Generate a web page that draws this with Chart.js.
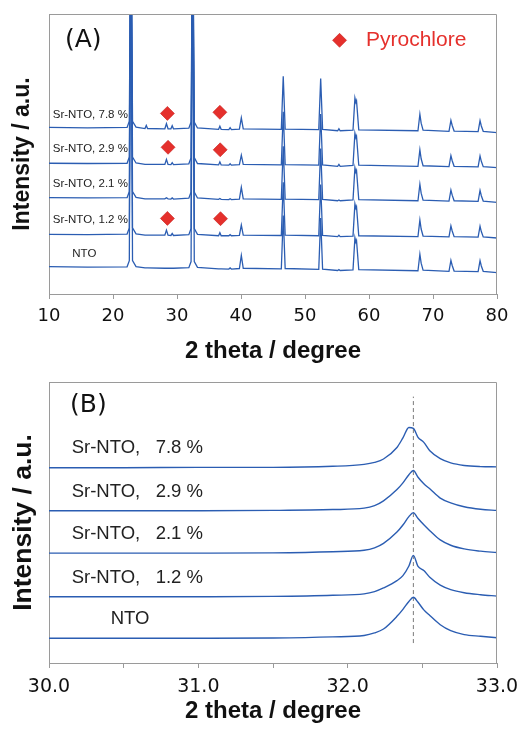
<!DOCTYPE html>
<html><head><meta charset="utf-8">
<script src="https://cdn.jsdelivr.net/npm/chart.js@4.4.1/dist/chart.umd.min.js"></script>
<style>
html,body{margin:0;padding:0;background:#fff;}
#wrap{position:relative;width:521px;height:730px;overflow:hidden;}
.box{position:absolute;left:0;width:521px;height:365px;}
canvas{display:block;}
</style></head><body>
<div id="wrap">
<div class="box" style="top:0"><canvas id="cA" width="521" height="365"></canvas></div>
<div class="box" style="top:365px"><canvas id="cB" width="521" height="365"></canvas></div>
</div>
<script>
// ---------- Panel (A): full pattern, 10-80 deg (stacked, a.u.) ----------
const twoThetaA = [10,16,22.2,22.55,22.8,23.05,23.6,25.0,25.2,25.4,28.1,28.35,28.6,29.05,29.25,29.45,31.85,32.2,32.45,32.7,33.2,36.5,36.7,36.9,38.1,38.3,38.5,39.75,40.05,40.35,46.3,46.6,46.9,52.15,52.45,52.75,55.1,55.3,55.5,57.5,57.8,57.95,58.05,58.4,67.65,67.95,68.15,68.45,72.5,72.8,73.0,73.3,77.05,77.35,77.55,77.85,80];
const intA_NTO = [9.8,9.6,9.7,11.9,140,11.9,9.8,9.3,9.3,9.3,9.2,9.2,9.2,9.2,9.2,9.2,9.4,11.6,140,11.6,9.5,9.0,9.0,9.0,8.9,9.3,8.9,9.1,13.8,9.2,9.0,28.0,9.1,8.8,27.1,8.9,8.4,8.7,8.4,8.6,20.1,18.5,19.1,8.7,8.3,14.2,11.0,8.5,8.1,12.0,10.2,8.2,8.0,11.9,10.0,8.1,7.6];
const intA_12 = [21.3,21.2,21.4,23.6,140,23.6,21.5,21.0,21.0,21.0,21.0,22.8,21.0,20.9,21.6,20.9,21.2,23.4,140,23.4,21.3,20.8,21.9,20.8,20.8,21.2,20.8,20.9,24.6,21.0,20.9,39.9,21.0,20.8,39.1,20.9,20.5,21.0,20.5,20.7,32.2,30.6,31.2,20.8,20.5,26.4,23.2,20.7,20.4,24.3,22.5,20.5,20.3,24.2,22.3,20.4,20.0];
const intA_21 = [34.4,34.3,34.4,36.6,140,36.6,34.5,34.0,34.0,34.0,34.0,34.4,34.0,33.9,34.3,33.9,34.2,36.4,140,36.4,34.3,33.8,34.1,33.8,33.7,34.0,33.7,33.9,38.1,34.0,33.8,52.8,33.9,33.7,52.0,33.8,33.3,33.6,33.3,33.6,45.1,43.5,44.1,33.7,33.3,39.2,36.0,33.5,33.2,37.1,35.3,33.3,33.1,37.0,35.1,33.2,32.75];
const intA_29 = [46.7,46.6,46.7,48.9,140,48.9,46.8,46.3,46.3,46.3,46.3,48.1,46.3,46.2,46.9,46.2,46.5,48.7,140,48.7,46.6,46.1,47.2,46.1,46.0,46.5,46.0,46.2,49.6,46.3,46.1,65.1,46.2,46.0,64.3,46.1,45.6,46.3,45.6,45.9,57.4,55.8,56.4,46.0,45.6,51.5,48.3,45.8,45.5,49.4,47.6,45.6,45.4,49.3,47.4,45.5,45.1];
const intA_78 = [59.5,59.3,59.5,61.7,140,61.7,59.6,59.1,60.2,59.1,59.0,60.8,59.0,59.0,60.1,59.0,59.2,61.4,140,61.4,59.3,58.8,59.9,58.8,58.7,59.4,58.7,58.9,62.9,59.0,58.8,77.8,58.9,58.7,77.0,58.8,58.3,59.0,58.3,58.5,70.0,68.4,69.0,58.6,58.3,64.2,61.0,58.5,58.1,62.0,60.2,58.2,58.0,61.9,60.0,58.1,57.6];
const seriesA = [intA_78, intA_29, intA_21, intA_12, intA_NTO];
const labelsA = ['Sr-NTO, 7.8 %','Sr-NTO, 2.9 %','Sr-NTO, 2.1 %','Sr-NTO, 1.2 %','NTO'];
const labelAX = [10.58, 10.58, 10.58, 10.58, 13.64];
const labelAY = [62.75, 50.6, 38.1, 25.5, 13.1];
// pyrochlore markers (last one is the legend key)
const pyroX = [28.5, 36.7, 28.6, 36.75, 28.5, 36.8, 55.4];
const pyroY = [64.5, 64.9, 52.4, 51.5, 27.0, 26.9, 90.6];
const ticksA = [10,20,30,40,50,60,70,80];

// ---------- Panel (B): 30-33 deg zoom ----------
const twoThetaB = [30.0,30.5,31.0,31.5,31.9,32.11,32.18,32.24,32.33,32.37,32.41,32.44,32.47,32.51,32.55,32.62,32.69,32.78,32.89,33.0];
const intB_NTO = [8.8,8.8,8.8,8.9,9.3,9.8,10.7,12.1,16.6,19.1,21.9,23.4,21.7,18.9,16.9,13.6,11.5,10.1,9.5,9.0];
const intB_12 = [23.6,23.6,23.6,23.7,24.1,24.6,25.4,26.7,29.3,31.1,34.5,38.3,34.5,32.9,30.5,27.7,26.1,25.0,24.3,23.8];
const intB_21 = [39.1,39.1,39.1,39.2,39.6,40.1,41.0,42.6,46.6,49.1,52.1,53.5,51.5,49.2,47.1,43.8,41.9,40.6,39.8,39.3];
const intB_29 = [54.2,54.2,54.2,54.3,54.6,55.1,56.0,57.7,61.7,64.1,67.0,68.5,66.2,63.8,62.0,58.7,57.0,55.6,54.7,54.3];
const intB_78 = [69.5,69.5,69.6,69.6,70.0,70.7,71.4,72.6,76.7,80.1,83.8,83.5,80.4,78.5,75.5,72.7,71.2,70.3,69.9,69.8];
const seriesB = [intB_78, intB_29, intB_21, intB_12, intB_NTO];
const labelsB = ['Sr-NTO,   7.8 %','Sr-NTO,   2.9 %','Sr-NTO,   2.1 %','Sr-NTO,   1.2 %','NTO'];
const labelBX = [30.152, 30.152, 30.152, 30.152, 30.413];
const labelBY = [74.6, 59.2, 44.1, 28.6, 13.9];
const refLineX = [32.44, 32.44];
const refLineY = [7.1, 94.8];

// ---------- styling ----------
const LINE = '#2b5db2';
const RED = '#e5302c';
const FRAME = '#9a9a9a';
Chart.defaults.font.family = 'Liberation Sans';
Chart.defaults.color = '#111';

const deco = {
  id: 'deco',
  afterDatasetsDraw(chart, args, opts) {
    const {ctx, chartArea: a, scales} = chart;
    ctx.save();
    ctx.strokeStyle = FRAME; ctx.lineWidth = 1;
    const t = Math.round(a.top) + 0.5, r = Math.round(a.right) - 0.5;
    ctx.beginPath();
    ctx.moveTo(a.left, t); ctx.lineTo(r, t); ctx.lineTo(r, a.bottom);
    ctx.stroke();
    for (const tx of opts.texts) {
      ctx.font = tx.font; ctx.fillStyle = tx.color;
      ctx.textAlign = 'left'; ctx.textBaseline = tx.baseline;
      ctx.fillText(tx.text, scales.x.getPixelForValue(tx.x), scales.y.getPixelForValue(tx.y));
    }
    ctx.restore();
  }
};

function xy(xs, ys) { return xs.map((x, i) => ({x, y: ys[i]})); }

function lineSets(xs, list, extra) {
  return list.map(ys => Object.assign({
    data: xy(xs, ys), borderColor: LINE, borderWidth: 1.3, pointRadius: 0,
    fill: false, tension: 0, order: 2
  }, extra || {}));
}

function axes(o) {
  return {
    x: {
      type: 'linear', min: o.xmin, max: o.xmax,
      afterFit: s => { s.height = o.xh; s.paddingLeft = 0; s.paddingRight = 0; },
      border: {display: true, color: FRAME, width: 1},
      grid: {drawOnChartArea: false, drawTicks: true, tickLength: 5, color: FRAME},
      ticks: {
        stepSize: o.step, autoSkip: false, maxRotation: 0, padding: o.tpad, color: '#111',
        font: {family: 'DejaVu Sans', size: o.tsize},
        callback: o.cb
      },
      title: {display: true, text: '2 theta / degree', color: '#111',
        font: {family: 'Liberation Sans', size: 24, weight: 'bold'},
        padding: {top: 0, bottom: o.titlePad}}
    },
    y: {
      type: 'linear', min: 0, max: 100,
      afterFit: s => { s.width = 49; s.paddingTop = 0; s.paddingBottom = 0; },
      border: {display: true, color: FRAME, width: 1},
      grid: {display: false, drawTicks: false},
      ticks: {display: false},
      title: {display: true, text: 'Intensity / a.u.', color: '#111',
        font: {family: 'Liberation Sans', size: o.ysize, weight: 'bold'},
        padding: {top: o.ypad, bottom: 0}}
    }
  };
}

// ----- Chart A -----
const textsA = labelsA.map((t, i) => ({text: t, x: labelAX[i], y: labelAY[i],
  font: '11.5px "Liberation Sans"', color: '#222', baseline: 'alphabetic'}));
textsA.push({text: '(A)', x: 12.5, y: 90.7, font: '25px "DejaVu Sans"', color: '#111', baseline: 'middle'});
textsA.push({text: 'Pyrochlore', x: 59.53, y: 90.8, font: '21px "Liberation Sans"', color: RED, baseline: 'middle'});

new Chart(document.getElementById('cA'), {
  type: 'line',
  data: {
    datasets: lineSets(twoThetaA, seriesA).concat([{
      data: xy(pyroX, pyroY), showLine: false, pointStyle: 'rectRot', pointRadius: 7,
      pointBackgroundColor: RED, pointBorderColor: '#c8221e', pointBorderWidth: 0.6, order: 0
    }])
  },
  options: {
    responsive: false, animation: false, events: [],
    layout: {padding: {left: 0, right: 24, top: 14, bottom: 0}},
    plugins: {legend: {display: false}, tooltip: {enabled: false}, deco: {texts: textsA}},
    scales: axes({xmin: 10, xmax: 80, step: 10, xh: 71, tpad: 6.5, tsize: 18, titlePad: -1,
      ysize: 23, ypad: 9, cb: v => (ticksA.includes(v) ? String(v) : '')})
  },
  plugins: [deco]
});

// ----- Chart B -----
const textsB = labelsB.map((t, i) => ({text: t, x: labelBX[i], y: labelBY[i],
  font: '18.5px "Liberation Sans"', color: '#222', baseline: 'alphabetic'}));
textsB.push({text: '(B)', x: 30.141, y: 91.8, font: '25px "DejaVu Sans"', color: '#111', baseline: 'middle'});

new Chart(document.getElementById('cB'), {
  type: 'line',
  data: {
    datasets: lineSets(twoThetaB, seriesB, {cubicInterpolationMode: 'monotone', borderWidth: 1.4}).concat([{
      data: xy(refLineX, refLineY), borderColor: '#7a7a7a', borderWidth: 1, borderDash: [4, 3],
      pointRadius: 0, tension: 0, order: 3
    }])
  },
  options: {
    responsive: false, animation: false, events: [],
    layout: {padding: {left: 0, right: 24, top: 17, bottom: 0}},
    plugins: {legend: {display: false}, tooltip: {enabled: false}, deco: {texts: textsB}},
    scales: axes({xmin: 30, xmax: 33, step: 0.5, xh: 67, tpad: 7.3, tsize: 19, titlePad: 4.5,
      ysize: 26.5, ypad: 7.4, cb: v => (Math.abs(v - Math.round(v)) < 1e-6 ? v.toFixed(1) : '')})
  },
  plugins: [deco]
});
</script></body></html>
